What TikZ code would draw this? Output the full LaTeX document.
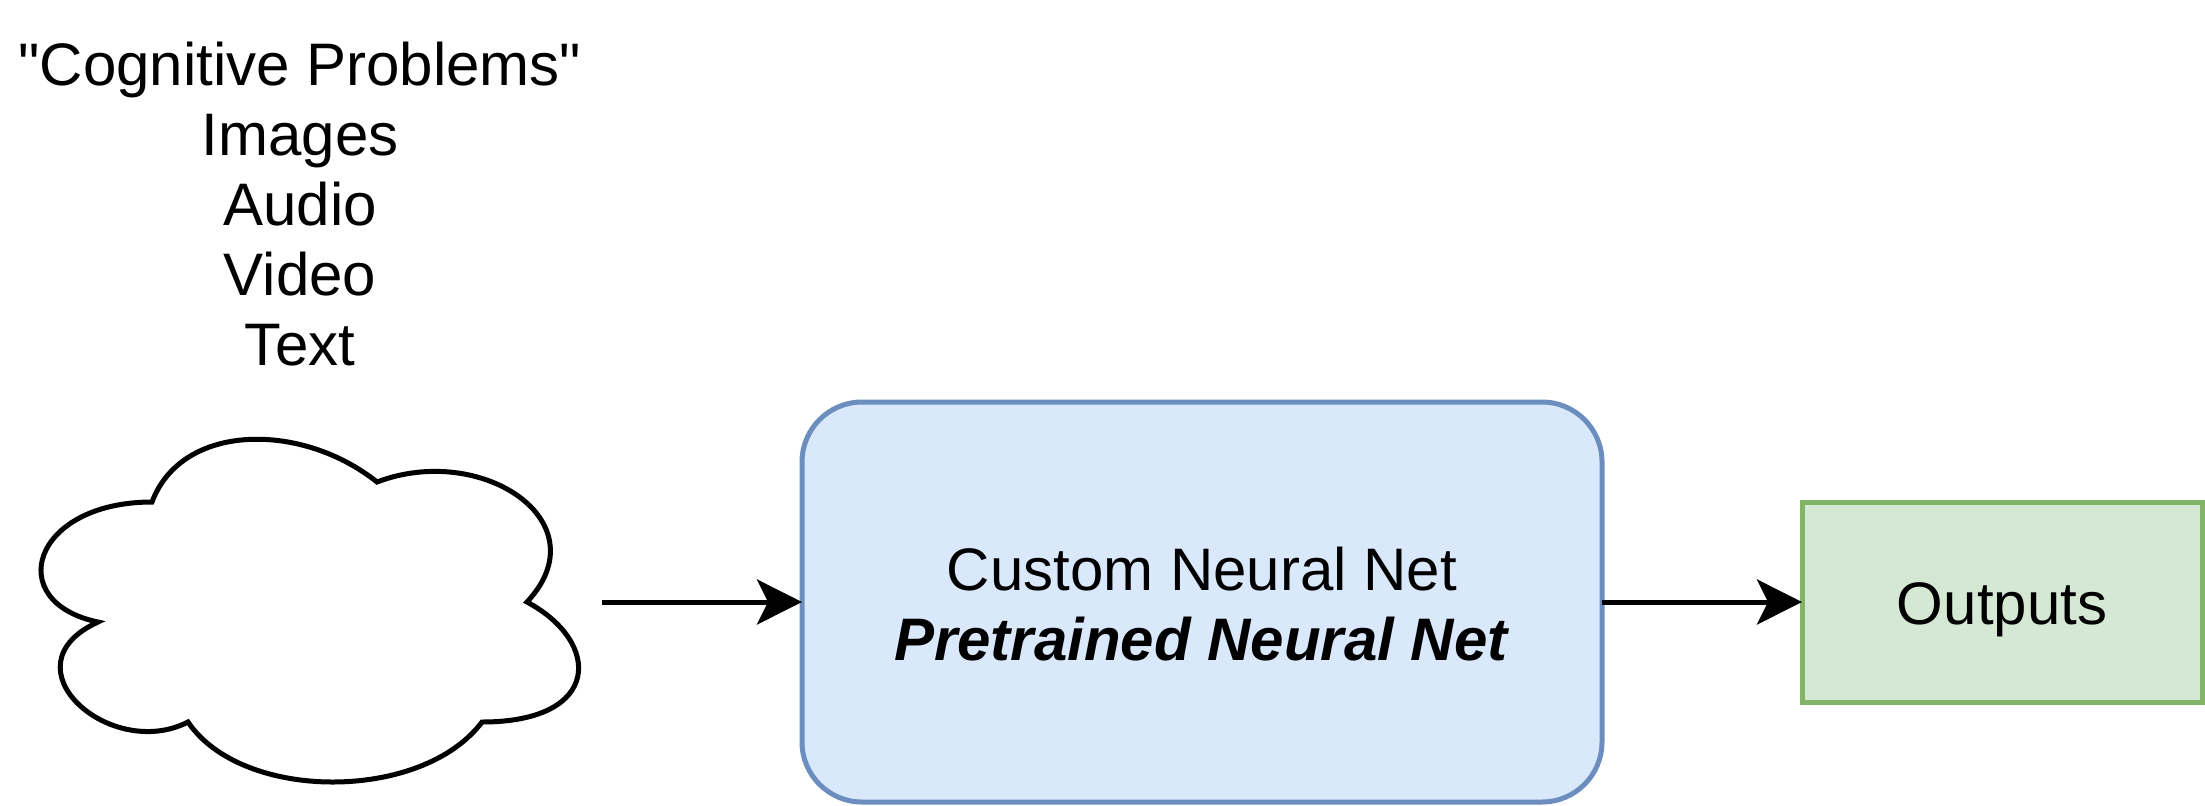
\documentclass[tikz,border=0pt]{standalone}
\usepackage{fontspec}
\setmainfont{Liberation Sans}[Ligatures=TeXOff]
\usetikzlibrary{arrows.meta}
\tikzset{
  lbl/.style={font=\fontsize{30pt}{35pt}\selectfont, align=center, text=black, inner sep=0pt, outer sep=0pt},
  bluebox/.style={draw=blueedge, fill=bluefill, line width=2.5pt, rounded corners=30pt, minimum width=400pt, minimum height=200pt, outer sep=0pt, inner sep=0pt, lbl},
  greenbox/.style={draw=greenedge, fill=greenfill, line width=2.5pt, minimum width=200pt, minimum height=100pt, outer sep=0pt, inner sep=0pt, lbl, text height=29pt, text depth=6.4pt},
  cloudline/.style={draw=black, fill=white, line width=2.5pt, miter limit=10},
  flow/.style={draw=black, line width=2.5pt, -{Stealth[length=22.5pt,width=22.5pt,inset=5.5pt]}}
}
\definecolor{blueedge}{HTML}{6C8EBF}
\definecolor{bluefill}{HTML}{DAE8FC}
\definecolor{greenedge}{HTML}{82B366}
\definecolor{greenfill}{HTML}{D5E8D4}
\begin{document}
\begin{tikzpicture}[x=0.5pt,y=-0.5pt]
  \useasboundingbox (0,0) rectangle (2205,805);
  % cloud, by its fractions of a 600 x 400 box at (2,402)
  \begin{scope}[shift={(2,402)},x=300pt,y=-200pt]
    \draw[cloudline] (0.25,0.25)
      .. controls (0.05,0.25) and (0,0.5) .. (0.16,0.55)
      .. controls (0,0.66) and (0.18,0.9) .. (0.31,0.8)
      .. controls (0.4,1) and (0.7,1) .. (0.8,0.8)
      .. controls (1,0.8) and (1,0.6) .. (0.875,0.5)
      .. controls (1,0.3) and (0.8,0.1) .. (0.625,0.2)
      .. controls (0.5,0.05) and (0.3,0.05) .. (0.25,0.25) -- cycle;
  \end{scope}
  \node[minimum width=300pt, minimum height=200pt, inner sep=0pt, outer sep=0pt] (cloud) at (302,602) {};
  \node[bluebox] (net) at (1202,602) {\rule{0pt}{23.5pt}Custom Neural Net\\\textbf{\textit{Pretrained Neural Net}}};
  \node[greenbox] (out) at (2002,602) {Outputs};
  \node[lbl] (title) at (300,204) {"Cognitive Problems"\\Images\\Audio\\Video\\Text};
  \draw[flow] (cloud.east) -- (net.west);
  \draw[flow] (net.east) -- (out.west);
\end{tikzpicture}
\end{document}
